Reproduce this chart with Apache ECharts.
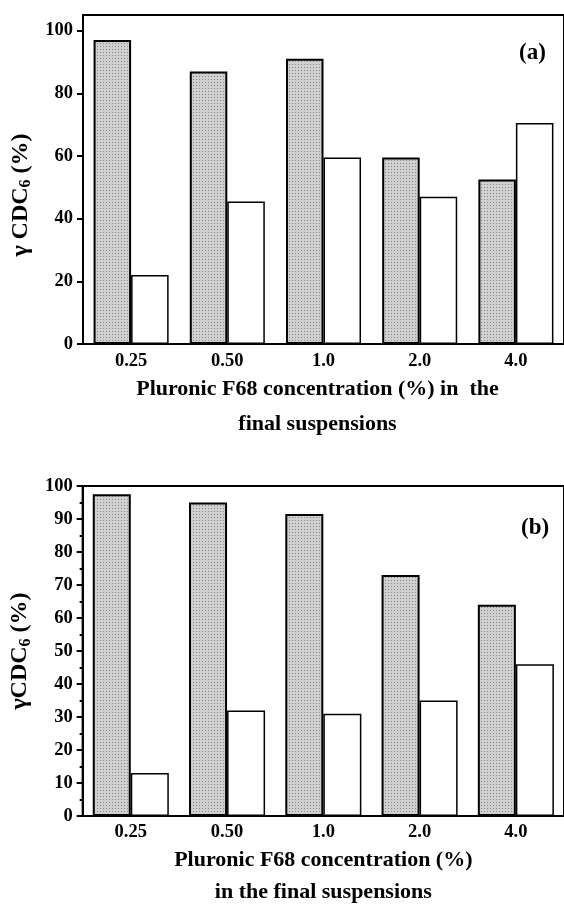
<!DOCTYPE html>
<html>
<head>
<meta charset="utf-8">
<script src="https://cdn.jsdelivr.net/npm/echarts@6/dist/echarts.min.js"></script>
<style>
html,body{margin:0;padding:0;background:#fff;}
#chart{width:564px;height:909px;}
</style>
</head>
<body>
<div id="chart"></div>
<script>
const categories = ['0.25', '0.50', '1.0', '2.0', '4.0'];
const shadedA = [97, 87, 91, 59.5, 52.5];
const whiteA = [22, 45.5, 59.5, 47, 70.5];
const shadedB = [97.5, 95, 91.5, 73, 64];
const whiteB = [13, 32, 31, 35, 46];
const yMajorA = [0, 20, 40, 60, 80, 100];
const yMinorA = [10, 30, 50, 70, 90];
const xTitleA = 'Pluronic F68 concentration (%) in  the\nfinal suspensions';
const xTitleB = 'Pluronic F68 concentration (%)\nin the final suspensions';

function makePattern() {
  const c = document.createElement('canvas');
  c.width = 3; c.height = 3;
  const g = c.getContext('2d');
  g.fillStyle = '#d0d0d0';
  g.fillRect(0, 0, 3, 3);
  g.fillStyle = '#888888';
  g.fillRect(1, 1, 1, 1);
  return c;
}
const pat = { image: makePattern(), repeat: 'repeat' };
const FONT = 'Liberation Serif';
const labelStyle = { fontFamily: FONT, fontWeight: 'bold', fontSize: 18.5, color: '#000' };
const line2 = { lineStyle: { color: '#000', width: 2 } };

const richName = {
  a: { fontFamily: FONT, fontWeight: 'bold', fontSize: 24, color: '#000', lineHeight: 28 },
  s: { fontFamily: FONT, fontWeight: 'bold', fontSize: 16, color: '#000', lineHeight: 10, verticalAlign: 'bottom' }
};

const chart = echarts.init(document.getElementById('chart'), null, { renderer: 'canvas' });
chart.setOption({
  animation: false,
  backgroundColor: '#fff',
  title: [
    { text: '(a)', left: 514, top: 37, textStyle: { fontFamily: FONT, fontWeight: 'bold', fontSize: 23, color: '#000' } },
    { text: '(b)', left: 516, top: 512, textStyle: { fontFamily: FONT, fontWeight: 'bold', fontSize: 23, color: '#000' } }
  ],
  grid: [
    { left: 83, right: -6, top: 15, height: 329, show: true, borderColor: '#000', borderWidth: 2, backgroundColor: 'transparent' },
    { left: 80, right: -12.5, top: 486, height: 335, show: true, borderColor: '#000', borderWidth: 2, backgroundColor: 'transparent' }
  ],
  xAxis: [
    {
      type: 'category', gridIndex: 0, data: categories,
      axisLine: line2, axisTick: { length: 5, lineStyle: { color: '#000', width: 2 } },
      axisLabel: Object.assign({ margin: 8 }, labelStyle),
      name: xTitleA, nameLocation: 'middle', nameGap: 27,
      nameTextStyle: { fontFamily: FONT, fontWeight: 'bold', fontSize: 22, lineHeight: 35, color: '#000', padding: [0, 12, 0, 0] }
    },
    {
      type: 'category', gridIndex: 1, data: categories,
      axisLine: line2, axisTick: { length: 5, lineStyle: { color: '#000', width: 2 } },
      axisLabel: Object.assign({ margin: 7 }, labelStyle),
      name: xTitleB, nameLocation: 'middle', nameGap: 28,
      nameTextStyle: { fontFamily: FONT, fontWeight: 'bold', fontSize: 22, lineHeight: 32, color: '#000' }
    }
  ],
  yAxis: [
    {
      type: 'value', gridIndex: 0, min: 0, max: 105, interval: 20,
      axisLine: { show: true, lineStyle: { color: '#000', width: 2 } },
      axisTick: { show: true, length: 6, customValues: yMajorA, lineStyle: { color: '#000', width: 2 } },
      axisLabel: Object.assign({ margin: 10, customValues: yMajorA }, labelStyle),
      splitLine: { show: false },
      name: '{a|γ CDC}{s|6}{a| (%)}', nameLocation: 'middle', nameRotate: 90, nameGap: 44,
      nameTextStyle: { rich: richName, padding: [0, 31, 0, 0] }
    },
    {
      type: 'value', gridIndex: 0, min: 0, max: 105, interval: 20,
      axisLine: { show: false },
      axisTick: { show: true, length: 3, customValues: yMinorA, lineStyle: { color: '#000', width: 2 } },
      axisLabel: { show: false },
      splitLine: { show: false }
    },
    {
      type: 'value', gridIndex: 1, min: 0, max: 100, interval: 10,
      axisLine: { show: true, lineStyle: { color: '#000', width: 2 } },
      axisTick: { show: true, length: 6, lineStyle: { color: '#000', width: 2 } },
      minorTick: { show: true, splitNumber: 2, length: 3, lineStyle: { color: '#000', width: 2 } },
      axisLabel: Object.assign({ margin: 10 }, labelStyle),
      splitLine: { show: false },
      name: '{a|γCDC}{s|6}{a| (%)}', nameLocation: 'middle', nameRotate: 90, nameGap: 42,
      nameTextStyle: { rich: richName }
    }
  ],
  series: [
    { type: 'bar', xAxisIndex: 0, yAxisIndex: 0, data: shadedA, barGap: '0%', barCategoryGap: '22%',
      itemStyle: { color: pat, borderColor: '#000', borderWidth: 2 } },
    { type: 'bar', xAxisIndex: 0, yAxisIndex: 0, data: whiteA, barGap: '0%', barCategoryGap: '22%',
      itemStyle: { color: '#fff', borderColor: '#000', borderWidth: 1.5 } },
    { type: 'bar', xAxisIndex: 1, yAxisIndex: 2, data: shadedB, barGap: '0%', barCategoryGap: '21%',
      itemStyle: { color: pat, borderColor: '#000', borderWidth: 2 } },
    { type: 'bar', xAxisIndex: 1, yAxisIndex: 2, data: whiteB, barGap: '0%', barCategoryGap: '21%',
      itemStyle: { color: '#fff', borderColor: '#000', borderWidth: 1.5 } }
  ]
});
</script>
</body>
</html>
